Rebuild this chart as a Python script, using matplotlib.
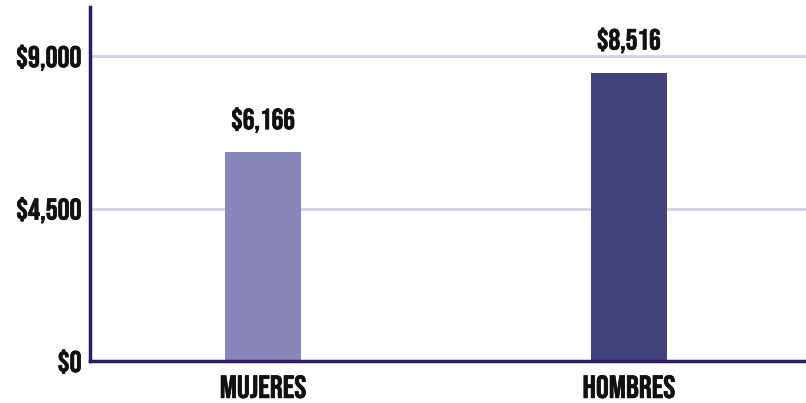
import matplotlib.pyplot as plt
import matplotlib.patheffects as pe

# data
categories = ["MUJERES", "HOMBRES"]
values = [6166, 8516]
bar_colors = ["#8886ba", "#43437a"]
yticks = [0, 4500, 9000]
ytick_labels = ["$0", "$4,500", "$9,000"]

plt.rcParams['font.family'] = ["Bebas Neue", "DejaVu Sans"]
bold = [pe.withStroke(linewidth=0.5, foreground="#111111")]

fig = plt.figure(figsize=(8.06, 4.03), dpi=100)
ax = fig.add_axes([90 / 806, 1 - 361 / 403, 716 / 806, 354 / 403])

x = list(range(len(categories)))
bars = ax.bar(x, values, width=0.208, color=bar_colors, zorder=3)

for b, v in zip(bars, values):
    ax.annotate(f"${v:,}", (b.get_x() + b.get_width() / 2, v),
                xytext=(0, 14), textcoords="offset points",
                ha="center", va="bottom", fontsize=21, color="#111111",
                path_effects=bold)

ax.set_xlim(-0.473, 1.484)
ax.set_ylim(0, 10450)
ax.set_xticks(x)
ax.set_xticklabels(categories, fontsize=23, color="#111111")
ax.set_yticks(yticks)
ax.set_yticklabels(ytick_labels, fontsize=21.5, color="#111111")
for lbl in ax.get_xticklabels() + ax.get_yticklabels():
    lbl.set_path_effects(bold)
ax.tick_params(axis="both", length=0)
ax.tick_params(axis="x", pad=10)
ax.tick_params(axis="y", pad=6)

ax.grid(axis="y", color="#d6d0e4", linewidth=2, zorder=0)
for side in ["top", "right"]:
    ax.spines[side].set_visible(False)
for side in ["left", "bottom"]:
    ax.spines[side].set_color("#2e1a6b")
    ax.spines[side].set_linewidth(2.5)
    ax.spines[side].set_zorder(4)

fig.savefig("out.png", dpi=100)
